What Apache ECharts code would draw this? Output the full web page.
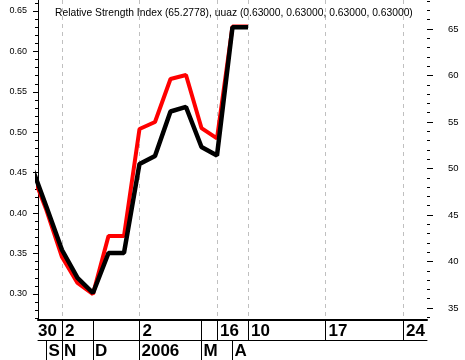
<!DOCTYPE html>
<html>
<head>
<meta charset="utf-8">
<script src="https://cdn.jsdelivr.net/npm/echarts@6/dist/echarts.min.js"></script>
<style>
  html, body { margin: 0; padding: 0; background: #fff; }
  #main { width: 465px; height: 360px; }
</style>
</head>
<body>
<div id="main"></div>
<script>
// bar index of each point (trading sessions, equally spaced)
var idx = [0, 1, 2, 3, 4, 5, 6, 7, 8, 9, 10, 11, 12, 13, 14];
// uuaz close, left axis
var price = [0.4596, 0.4076, 0.3544, 0.3198, 0.3012, 0.3507, 0.3507, 0.4608, 0.4707,
  0.5257, 0.5313, 0.4818, 0.4713, 0.63, 0.63];
// RSI, right axis
var rsi = [49.84, 45.5, 40.48, 37.69, 36.5, 42.74, 42.74, 54.25, 55.0,
  59.62, 60.05, 54.35, 53.23, 65.2778, 65.2778];

// date rows under the chart
var dayPos = [0.4516, 2, 7, 12, 14, 19, 24];
var dayText = ['30', '2', '2', '16', '10', '17', '24'];
var daySep = [2, 4, 7, 11, 12, 14, 19, 24];
var monthPos = [1, 2, 4, 7, 11, 13];
var monthText = ['S', 'N', 'D', '2006', 'M', 'A'];
var gridPos = [2, 7, 12, 14, 19, 24];

var leftTicks = [0.30, 0.35, 0.40, 0.45, 0.50, 0.55, 0.60, 0.65];
var rightTicks = [35, 40, 45, 50, 55, 60, 65];

var xMin = 0.4516, xMax = 25.55;

function minorList(a, b, step, skip) {
  var out = [];
  for (var v = a; v <= b + 1e-9; v += step) {
    var r = Math.round(v / step) * step;
    if (Math.round(r / skip * 1000) % 1000 !== 0) out.push(+r.toFixed(4));
  }
  return out;
}

var myChart = echarts.init(document.getElementById('main'));

var FONT = 'Liberation Sans, Arial, sans-serif';

var option = {
  animation: false,
  title: {
    text: 'Relative Strength Index (65.2778), uuaz (0.63000, 0.63000, 0.63000, 0.63000)',
    left: 50,
    top: 3,
    textStyle: { fontFamily: FONT, fontSize: 10.3, fontWeight: 'normal', color: '#000' }
  },
  grid: { left: 38, right: 38, top: 0, bottom: 40 },
  xAxis: [
    {
      type: 'value', min: xMin, max: xMax, position: 'bottom',
      axisLine: { show: true, lineStyle: { color: '#000', width: 2 } },
      axisTick: { show: true, customValues: daySep, length: 20, lineStyle: { color: '#000', width: 1 } },
      axisLabel: {
        customValues: dayPos, align: 'left', margin: 3, padding: [0, 0, 0, 3],
        formatter: function (v) {
          var i = dayPos.findIndex(function (p) { return Math.abs(p - v) < 1e-6; });
          if (i === 0) return '';
          return i >= 0 ? dayText[i] : '';
        },
        fontFamily: FONT, fontWeight: 'bold', fontSize: 17, color: '#000'
      },
      splitLine: { show: false }
    },
    {
      type: 'value', min: xMin, max: xMax, position: 'bottom', offset: 20,
      axisLine: { show: true, lineStyle: { color: '#000', width: 1 } },
      axisTick: { show: true, customValues: monthPos, length: 20, lineStyle: { color: '#000', width: 1 } },
      axisLabel: {
        customValues: monthPos, align: 'left', margin: 3, padding: [0, 0, 0, 2],
        formatter: function (v) {
          var i = monthPos.indexOf(v);
          return i >= 0 ? monthText[i] : '';
        },
        fontFamily: FONT, fontWeight: 'bold', fontSize: 17, color: '#000'
      },
      splitLine: { show: false }
    },
    {
      type: 'value', min: xMin, max: xMax, position: 'bottom',
      axisLine: { show: false },
      axisTick: { show: false, customValues: gridPos },
      axisLabel: { show: false },
      splitLine: { show: true, lineStyle: { color: '#c0c0c0', type: [4, 4], width: 1 } }
    },
    {
      // first day label, cut by the left edge as in the original
      type: 'value', min: xMin, max: xMax, position: 'bottom',
      axisLine: { show: false },
      axisTick: { show: false },
      axisLabel: {
        customValues: [xMin], align: 'left', margin: 3, padding: [0, 0, 0, 0],
        formatter: function () { return dayText[0]; },
        fontFamily: FONT, fontWeight: 'bold', fontSize: 17, color: '#000'
      },
      splitLine: { show: false }
    }
  ],
  yAxis: [
    {
      type: 'value', min: 0.2678, max: 0.6636, position: 'left',
      axisLine: { show: true, lineStyle: { color: '#000', width: 1 } },
      axisTick: { show: true, customValues: leftTicks, length: 5, lineStyle: { color: '#000' } },
      axisLabel: {
        customValues: leftTicks, margin: 11,
        formatter: function (v) { return v.toFixed(2); },
        fontFamily: FONT, fontSize: 9, color: '#000'
      },
      splitLine: { show: false }
    },
    {
      type: 'value', min: 33.71, max: 68.118, position: 'right',
      axisLine: { show: false },
      axisTick: { show: true, customValues: rightTicks, length: 6, lineStyle: { color: '#000' } },
      axisLabel: {
        customValues: rightTicks, margin: 21,
        formatter: function (v) { return String(v); },
        fontFamily: FONT, fontSize: 9.5, color: '#000'
      },
      splitLine: { show: false }
    },
    {
      type: 'value', min: 0.2678, max: 0.6636, position: 'left',
      axisLine: { show: false },
      axisTick: { show: true, customValues: minorList(0.27, 0.66, 0.01, 0.05), length: 3, lineStyle: { color: '#000' } },
      axisLabel: { show: false },
      splitLine: { show: false }
    },
    {
      type: 'value', min: 33.71, max: 68.118, position: 'right',
      axisLine: { show: false },
      axisTick: { show: true, customValues: minorList(34, 68, 1, 5), length: 3, lineStyle: { color: '#000' } },
      axisLabel: { show: false },
      splitLine: { show: false }
    }
  ],
  series: [
    {
      name: 'RSI', type: 'line', xAxisIndex: 0, yAxisIndex: 1,
      data: idx.map(function (x, i) { return [x, rsi[i]]; }),
      showSymbol: false, symbol: 'none', z: 3,
      lineStyle: { color: '#ff0000', width: 4 }
    },
    {
      name: 'uuaz', type: 'line', xAxisIndex: 0, yAxisIndex: 0,
      data: idx.map(function (x, i) { return [x, price[i]]; }),
      showSymbol: false, symbol: 'none', z: 4,
      lineStyle: { color: '#000000', width: 4.5 }
    }
  ]
};

myChart.setOption(option);
</script>
</body>
</html>
